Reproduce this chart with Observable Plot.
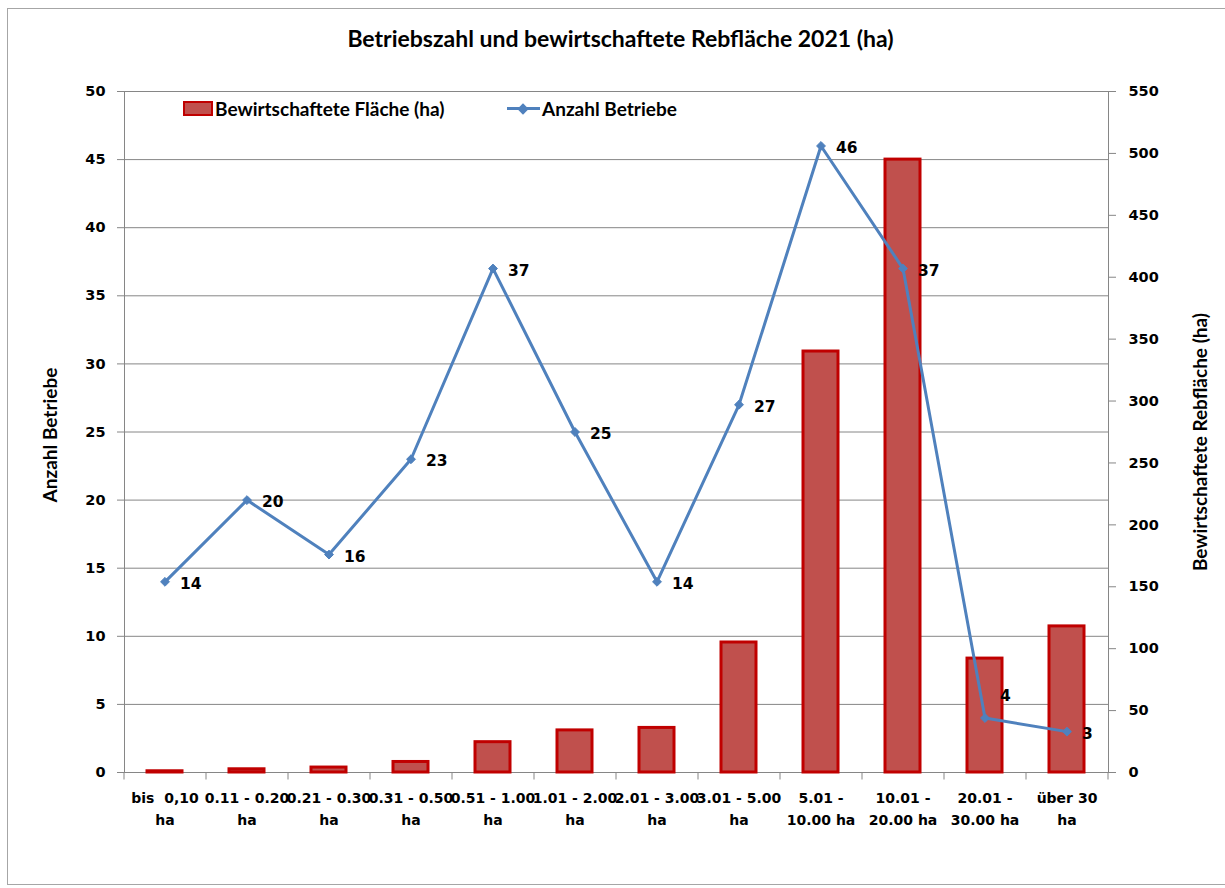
<!DOCTYPE html>
<html>
<head>
<meta charset="utf-8">
<script src="https://cdn.jsdelivr.net/npm/d3@7"></script>
<script src="https://cdn.jsdelivr.net/npm/@observablehq/plot@0.6"></script>
<style>
  html, body { margin: 0; padding: 0; background: #fff; }
  #wrap { position: relative; width: 1225px; height: 888px; overflow: hidden; }
  #frame { position: absolute; left: 7px; top: 8px; width: 1240px; height: 877px; border: 1px solid #a6a6a6; box-sizing: border-box; pointer-events: none; }
  #title { position: absolute; left: 0; top: 0; width: 1225px; height: 70px; box-sizing: border-box; padding-left: 16px; text-align: center; line-height: 76px; font-family: Lato, sans-serif; font-weight: bold; font-size: 23px; color: #000; }
  #chart { position: absolute; left: 0; top: 70px; }
  .leg { position: absolute; font-family: Lato, sans-serif; font-weight: bold; font-size: 19px; color: #000; line-height: 19px; }
  #sw1 { position: absolute; left: 183px; top: 101px; width: 30px; height: 15px; background: #C0504D; border: 2px solid #C00000; box-sizing: border-box; }
  #ln2 { position: absolute; left: 507px; top: 107px; width: 33px; height: 3px; background: #4F81BD; }
  #dm2 { position: absolute; left: 519px; top: 104.5px; width: 8px; height: 8px; background: #4F81BD; transform: rotate(45deg); }
</style>
</head>
<body>
<div id="wrap">
  <div id="title">Betriebszahl und bewirtschaftete Rebfläche 2021 (ha)</div>
  <div id="chart"></div>
  <div id="sw1"></div>
  <div class="leg" style="left:215px; top:99px;">Bewirtschaftete Fläche (ha)</div>
  <div id="ln2"></div>
  <div id="dm2"></div>
  <div class="leg" style="left:542px; top:99px;">Anzahl Betriebe</div>
  <div id="frame"></div>
</div>
<script>
const categories = [
  "bis  0,10\nha", "0.11 - 0.20\nha", "0.21 - 0.30\nha", "0.31 - 0.50\nha",
  "0.51 - 1.00\nha", "1.01 - 2.00\nha", "2.01 - 3.00\nha", "3.01 - 5.00\nha",
  "5.01 -\n10.00 ha", "10.01 -\n20.00 ha", "20.01 -\n30.00 ha", "über 30\nha"
];
const anzahlBetriebe = [14, 20, 16, 23, 37, 25, 14, 27, 46, 37, 4, 3];
const flaecheHa = [1, 2.6, 4, 8.5, 24.5, 34, 36, 105, 340, 495, 92, 118];
const leftTicks = [0, 5, 10, 15, 20, 25, 30, 35, 40, 45, 50];
const rightTicks = [0, 50, 100, 150, 200, 250, 300, 350, 400, 450, 500, 550];
const leftMax = 50, rightMax = 550;

const ratio = rightMax / leftMax; // ha per Betrieb unit on the shared y scale
const data = categories.map((c, i) => ({cat: c, n: anzahlBetriebe[i], ha: flaecheHa[i], i}));

const W = 1225, H = 818;
const mL = 124, mR = 117, mT = 21, mB = 116;
const step = (W - mL - mR) / categories.length;

const chart = Plot.plot({
  width: W,
  height: H,
  marginLeft: mL,
  marginRight: mR,
  marginTop: mT,
  marginBottom: mB,
  style: "font-family: 'DejaVu Sans'; font-weight: bold; font-size: 14px; color: #000; background: transparent;",
  x: {domain: categories, paddingInner: 0.57, paddingOuter: 0.285, axis: null},
  y: {domain: [0, leftMax], axis: null},
  marks: [
    Plot.gridY(leftTicks, {stroke: "#868686", strokeOpacity: 1, strokeWidth: 1}),
    Plot.frame({stroke: "#868686", strokeWidth: 1}),
    Plot.axisY({anchor: "left", ticks: leftTicks, tickSize: 7, tickPadding: 12, stroke: "#868686", fill: "#000", label: null, fontSize: 14.5}),
    Plot.axisY({anchor: "right", ticks: rightTicks.map(v => v / ratio), tickFormat: v => String(Math.round(v * ratio)), tickSize: 7, tickPadding: 13, stroke: "#868686", fill: "#000", label: null, fontSize: 14.5}),
    Plot.axisX({anchor: "bottom", tickSize: 0, tickPadding: 14, lineHeight: 1.62, label: null, fill: "#000", fontSize: 14, textOverflow: null}),
    Plot.link(data, {x1: "cat", x2: "cat", y1: 0, y2: -7 * leftMax / (H - mT - mB), dx: -step / 2, stroke: "#868686"}),
    Plot.link(data.slice(-1), {x1: "cat", x2: "cat", y1: 0, y2: -7 * leftMax / (H - mT - mB), dx: step / 2, stroke: "#868686"}),
    Plot.barY(data, {x: "cat", y: d => d.ha / ratio, fill: "#C0504D", stroke: "#C00000", strokeWidth: 3}),
    Plot.lineY(data, {x: "cat", y: "n", stroke: "#4F81BD", strokeWidth: 3}),
    Plot.dot(data, {x: "cat", y: "n", symbol: "diamond2", r: 4, fill: "#4F81BD", stroke: "#4F81BD", strokeWidth: 1}),
    Plot.text(data.filter(d => d.i !== 10), {x: "cat", y: "n", text: d => String(d.n), textAnchor: "start", dx: 15, dy: 2, fontSize: 15.5, fill: "#000"}),
    Plot.text(data.filter(d => d.i === 10), {x: "cat", y: "n", text: d => String(d.n), textAnchor: "start", dx: 15, dy: -22, fontSize: 15.5, fill: "#000"}),
    Plot.text(["Anzahl Betriebe"], {frameAnchor: "left", textAnchor: "middle", dx: -74, dy: 3, rotate: -90, fontFamily: "Lato", fontSize: 19, fontWeight: "bold", fill: "#000"}),
    Plot.text(["Bewirtschaftete Rebfläche (ha)"], {frameAnchor: "right", textAnchor: "middle", dx: 92, dy: 10, rotate: -90, fontFamily: "Lato", fontSize: 19, fontWeight: "bold", fill: "#000"})
  ]
});
document.getElementById("chart").appendChild(chart);
</script>
</body>
</html>
